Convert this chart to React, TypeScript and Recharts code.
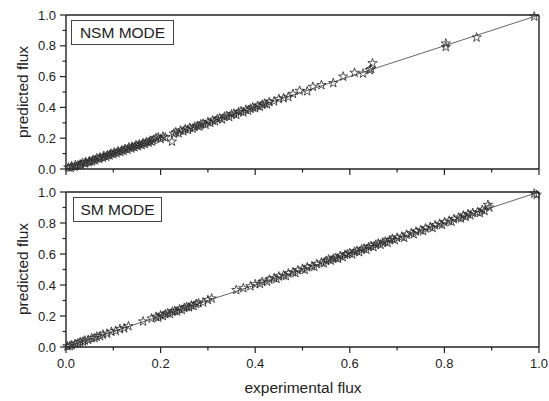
import React from "react";
import { ScatterChart, Scatter, XAxis, YAxis, ReferenceLine, Symbols } from "recharts";

// ---- data ----
const tickValues = [0, 0.1, 0.2, 0.3, 0.4, 0.5, 0.6, 0.7, 0.8, 0.9, 1.0];
const identityLine = [
  { x: 0, y: 0 },
  { x: 1, y: 1 },
];

const nsmExperimental = [
  0.005, 0.01, 0.012, 0.018, 0.02, 0.025, 0.03, 0.032, 0.035, 0.04, 0.042, 0.048, 0.05, 0.055, 0.058, 0.062,
  0.065, 0.07, 0.072, 0.078, 0.08, 0.085, 0.088, 0.092, 0.095, 0.1, 0.102, 0.107, 0.11, 0.115, 0.118, 0.122,
  0.125, 0.13, 0.133, 0.138, 0.14, 0.145, 0.148, 0.152, 0.155, 0.16, 0.163, 0.167, 0.17, 0.175, 0.178, 0.182,
  0.185, 0.19, 0.195, 0.2, 0.205, 0.21, 0.224, 0.228, 0.232, 0.238, 0.242, 0.248, 0.252, 0.258, 0.262, 0.268,
  0.272, 0.278, 0.282, 0.285, 0.29, 0.295, 0.3, 0.305, 0.31, 0.315, 0.32, 0.325, 0.33, 0.335, 0.34, 0.345,
  0.35, 0.355, 0.36, 0.365, 0.37, 0.375, 0.38, 0.385, 0.39, 0.395, 0.4, 0.405, 0.41, 0.415, 0.42, 0.425,
  0.43, 0.44, 0.45, 0.46, 0.47, 0.48, 0.494, 0.51, 0.522, 0.54, 0.565, 0.586, 0.61, 0.628, 0.642, 0.645,
  0.648, 0.803, 0.803, 0.868, 0.99,
];
const nsmPredicted = [
  0.01, 0.008, 0.018, 0.015, 0.025, 0.022, 0.03, 0.026, 0.04, 0.036, 0.045, 0.044, 0.052, 0.05, 0.06, 0.057,
  0.07, 0.066, 0.075, 0.074, 0.085, 0.08, 0.09, 0.088, 0.1, 0.096, 0.108, 0.104, 0.115, 0.11, 0.122, 0.118,
  0.13, 0.126, 0.14, 0.134, 0.145, 0.142, 0.155, 0.148, 0.16, 0.156, 0.168, 0.162, 0.175, 0.172, 0.184, 0.178,
  0.19, 0.2, 0.205, 0.195, 0.21, 0.205, 0.178, 0.23, 0.238, 0.232, 0.25, 0.245, 0.258, 0.255, 0.268, 0.262,
  0.275, 0.28, 0.276, 0.29, 0.295, 0.288, 0.305, 0.3, 0.315, 0.31, 0.325, 0.33, 0.322, 0.34, 0.345, 0.338,
  0.355, 0.36, 0.352, 0.37, 0.375, 0.368, 0.385, 0.38, 0.392, 0.4, 0.395, 0.41, 0.405, 0.418, 0.425, 0.42,
  0.435, 0.44, 0.455, 0.46, 0.468, 0.488, 0.508, 0.505, 0.534, 0.545, 0.558, 0.6, 0.625, 0.62, 0.642, 0.65,
  0.687, 0.815, 0.793, 0.854, 0.99,
];

const smExperimental = [
  0.003, 0.008, 0.012, 0.019, 0.025, 0.03, 0.036, 0.04, 0.047, 0.054, 0.06, 0.065, 0.072, 0.078, 0.087, 0.096,
  0.105, 0.114, 0.123, 0.132, 0.163, 0.181, 0.19, 0.195, 0.2, 0.205, 0.21, 0.215, 0.22, 0.225, 0.23, 0.235,
  0.24, 0.245, 0.25, 0.255, 0.26, 0.265, 0.27, 0.275, 0.28, 0.29, 0.3, 0.308, 0.36, 0.375, 0.39, 0.4,
  0.41, 0.415, 0.425, 0.43, 0.44, 0.445, 0.45, 0.46, 0.465, 0.47, 0.48, 0.485, 0.49, 0.5, 0.505, 0.51,
  0.52, 0.525, 0.53, 0.54, 0.545, 0.55, 0.555, 0.56, 0.565, 0.57, 0.575, 0.58, 0.585, 0.59, 0.595, 0.6,
  0.605, 0.61, 0.615, 0.62, 0.625, 0.63, 0.635, 0.64, 0.645, 0.65, 0.655, 0.66, 0.665, 0.67, 0.675, 0.68,
  0.685, 0.69, 0.695, 0.7, 0.71, 0.715, 0.72, 0.73, 0.735, 0.74, 0.75, 0.755, 0.76, 0.77, 0.775, 0.78,
  0.79, 0.795, 0.8, 0.81, 0.815, 0.82, 0.83, 0.835, 0.84, 0.845, 0.85, 0.855, 0.86, 0.87, 0.875, 0.88,
  0.885, 0.892, 0.895, 0.99, 0.995,
];
const smPredicted = [
  0.005, 0.006, 0.012, 0.02, 0.024, 0.032, 0.035, 0.042, 0.046, 0.056, 0.058, 0.067, 0.07, 0.08, 0.086, 0.098,
  0.104, 0.116, 0.121, 0.134, 0.165, 0.184, 0.195, 0.19, 0.205, 0.2, 0.212, 0.218, 0.215, 0.228, 0.232, 0.23,
  0.243, 0.24, 0.252, 0.258, 0.256, 0.268, 0.265, 0.278, 0.283, 0.288, 0.303, 0.313, 0.368, 0.38, 0.392, 0.405,
  0.408, 0.42, 0.422, 0.435, 0.445, 0.44, 0.455, 0.462, 0.458, 0.475, 0.483, 0.478, 0.495, 0.505, 0.498, 0.515,
  0.522, 0.518, 0.535, 0.545, 0.54, 0.555, 0.565, 0.558, 0.57, 0.575, 0.57, 0.588, 0.58, 0.595, 0.6, 0.605,
  0.598, 0.615, 0.62, 0.612, 0.63, 0.635, 0.628, 0.645, 0.652, 0.645, 0.66, 0.668, 0.66, 0.675, 0.68, 0.672,
  0.69, 0.698, 0.69, 0.705, 0.712, 0.705, 0.725, 0.735, 0.728, 0.745, 0.755, 0.748, 0.765, 0.775, 0.768, 0.785,
  0.795, 0.788, 0.805, 0.815, 0.808, 0.825, 0.835, 0.83, 0.848, 0.84, 0.858, 0.85, 0.865, 0.87, 0.865, 0.885,
  0.878, 0.917, 0.9, 0.99, 0.982,
];

const panelLabels = ["NSM MODE", "SM MODE"];
const xTitle = "experimental flux";
const yTitle = "predicted flux";

// ---- helpers ----
const toPoints = (xs: number[], ys: number[]) => xs.map((x, i) => ({ x, y: ys[i] }));
const nsmPoints = toPoints(nsmExperimental, nsmPredicted);
const smPoints = toPoints(smExperimental, smPredicted);

const FONT = "'Liberation Sans', Arial, Helvetica, sans-serif";
const INK = "#222";
const isMajor = (v: number) => Math.round(v * 10) % 2 === 0;

const StarMark = (props: any) => {
  const { cx, cy } = props;
  if (cx == null || cy == null) return null;
  return <Symbols cx={cx} cy={cy} type="star" size={27} sizeType="area" fill="none" stroke="#2a2a2a" strokeWidth={0.8} />;
};

const LeftTick = (props: any) => {
  const { x, y, payload } = props;
  const v = payload.value as number;
  const major = isMajor(v);
  return (
    <g>
      <line x1={x - (major ? 6 : 3.5)} x2={x} y1={y} y2={y} stroke={INK} strokeWidth={1.2} />
      {major && (
        <text x={x - 10} y={y} dy={4.5} textAnchor="end" fontSize={13} fill={INK} fontFamily={FONT}>
          {v.toFixed(1)}
        </text>
      )}
    </g>
  );
};

const RightTick = (props: any) => {
  const { x, y, payload } = props;
  const major = isMajor(payload.value);
  return <line x1={x - (major ? 5.5 : 3.5)} x2={x} y1={y} y2={y} stroke={INK} strokeWidth={1.2} />;
};

const TopTick = (props: any) => {
  const { x, y, payload } = props;
  const major = isMajor(payload.value);
  return <line x1={x} x2={x} y1={y} y2={y + (major ? 5.5 : 3.5)} stroke={INK} strokeWidth={1.2} />;
};

const makeBottomTick = (withLabel: boolean) => (props: any) => {
  const { x, y, payload } = props;
  const v = payload.value as number;
  const major = isMajor(v);
  return (
    <g>
      <line x1={x} x2={x} y1={y} y2={y + (major ? 6 : 3.5)} stroke={INK} strokeWidth={1.2} />
      {withLabel && major && (
        <text x={x} y={y + 21} textAnchor="middle" fontSize={13} fill={INK} fontFamily={FONT}>
          {v.toFixed(1)}
        </text>
      )}
    </g>
  );
};

const BottomTickPlain = makeBottomTick(false);
const BottomTickLabeled = makeBottomTick(true);

type PanelProps = {
  points: { x: number; y: number }[];
  height: number;
  xAxisHeight: number;
  labeled: boolean;
};

const Panel = ({ points, height, xAxisHeight, labeled }: PanelProps) => (
  <ScatterChart width={549} height={height} margin={{ top: 14, right: 9, bottom: 0, left: 0 }}>
    <XAxis
      dataKey="x"
      type="number"
      domain={[0, 1]}
      ticks={tickValues}
      interval={0}
      height={xAxisHeight}
      tickSize={0}
      tickMargin={0}
      tickLine={false}
      axisLine={{ stroke: INK, strokeWidth: 1.4 }}
      tick={labeled ? BottomTickLabeled : BottomTickPlain}
    />
    <XAxis
      xAxisId="top"
      orientation="top"
      type="number"
      domain={[0, 1]}
      ticks={tickValues}
      interval={0}
      height={1}
      tickSize={0}
      tickMargin={0}
      tickLine={false}
      axisLine={{ stroke: INK, strokeWidth: 1.4 }}
      tick={TopTick}
    />
    <YAxis
      dataKey="y"
      type="number"
      domain={[0, 1]}
      ticks={tickValues}
      interval={0}
      width={66}
      tickSize={0}
      tickMargin={0}
      tickLine={false}
      axisLine={{ stroke: INK, strokeWidth: 1.4 }}
      tick={LeftTick}
    />
    <YAxis
      yAxisId="right"
      orientation="right"
      type="number"
      domain={[0, 1]}
      ticks={tickValues}
      interval={0}
      width={1}
      tickSize={0}
      tickMargin={0}
      tickLine={false}
      axisLine={{ stroke: INK, strokeWidth: 1.4 }}
      tick={RightTick}
    />
    <ReferenceLine segment={identityLine} stroke="#555" strokeWidth={0.9} />
    <Scatter data={points} shape={StarMark} isAnimationActive={false} />
  </ScatterChart>
);

const boxStyle = (left: number, top: number, width: number): React.CSSProperties => ({
  position: "absolute",
  left,
  top,
  width,
  height: 25,
  border: "1px solid #444",
  background: "#fff",
  boxSizing: "border-box",
  fontFamily: FONT,
  fontSize: 15.5,
  color: INK,
  lineHeight: "23px",
  textAlign: "center",
  whiteSpace: "nowrap",
});

const yTitleStyle = (top: number): React.CSSProperties => ({
  position: "absolute",
  left: 23,
  top,
  transform: "translate(-50%, -50%) rotate(-90deg)",
  fontFamily: FONT,
  fontSize: 15.5,
  color: INK,
  whiteSpace: "nowrap",
});

export default function App() {
  return (
    <div style={{ position: "absolute", left: 0, top: 0, width: 549, height: 401, background: "#fff", overflow: "hidden" }}>
      <div style={{ position: "absolute", left: 0, top: 0 }}>
        <Panel points={nsmPoints} height={180} xAxisHeight={11} labeled={false} />
      </div>
      <div style={{ position: "absolute", left: 0, top: 177 }}>
        <Panel points={smPoints} height={224} xAxisHeight={54} labeled={true} />
      </div>
      <div style={boxStyle(71, 20, 103)}>{panelLabels[0]}</div>
      <div style={boxStyle(73, 197, 89)}>{panelLabels[1]}</div>
      <div style={yTitleStyle(92)}>{yTitle}</div>
      <div style={yTitleStyle(269)}>{yTitle}</div>
      <div
        style={{
          position: "absolute",
          left: 303,
          top: 388,
          transform: "translate(-50%, -50%)",
          fontFamily: FONT,
          fontSize: 15.5,
          color: INK,
          whiteSpace: "nowrap",
        }}
      >
        {xTitle}
      </div>
    </div>
  );
}
